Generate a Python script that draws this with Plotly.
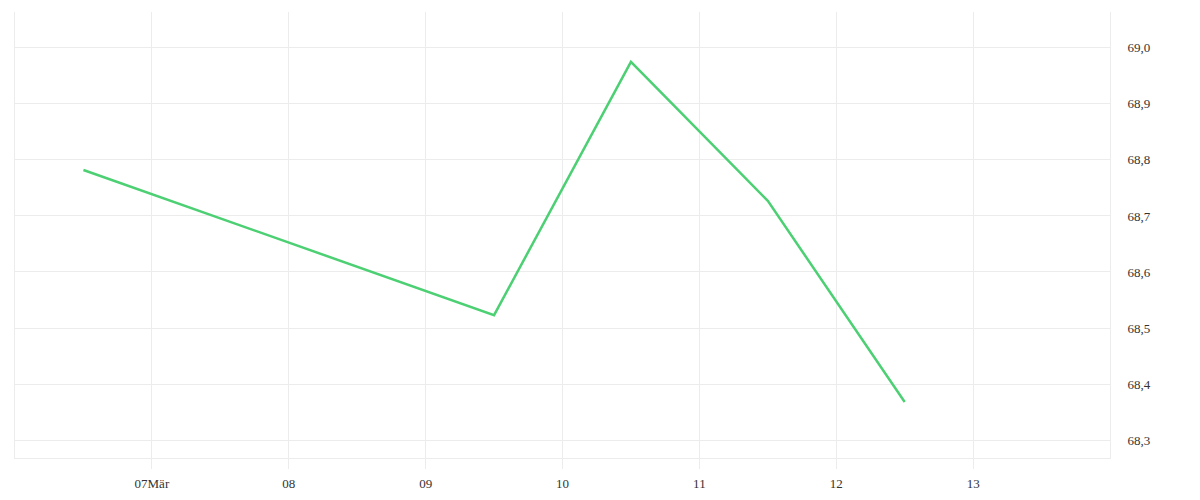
import plotly.graph_objects as go

dates = ["2020-03-06 12:00", "2020-03-09 12:00", "2020-03-10 12:00",
         "2020-03-11 12:00", "2020-03-12 12:00"]
values = [68.782, 68.523, 68.975, 68.727, 68.368]

tick_dates = ["2020-03-07", "2020-03-08", "2020-03-09", "2020-03-10",
              "2020-03-11", "2020-03-12", "2020-03-13"]
tick_labels = ["07Mär", "08", "09", "10", "11", "12", "13"]

GRID = "#ececec"

fig = go.Figure()
fig.add_trace(go.Scatter(
    x=dates,
    y=values,
    mode="lines",
    line=dict(color="#4cd073", width=2.5),
    hovertemplate="%{x|%d.%m.%Y}<br>%{y:.3f}<extra></extra>",
))

# page body has an 8px margin, so plot margins are shifted to compensate
fig.update_layout(
    width=1200,
    height=500,
    margin=dict(l=7, r=98, t=4, b=50),
    plot_bgcolor="white",
    paper_bgcolor="white",
    separators=",.",
    showlegend=False,
    font=dict(family="Times New Roman, Liberation Serif, DejaVu Serif, serif",
              size=13, color="#333333"),
    xaxis=dict(
        range=["2020-03-06", "2020-03-14"],
        tickvals=tick_dates,
        ticktext=tick_labels,
        showgrid=True,
        gridcolor=GRID,
        ticks="outside",
        ticklen=10,
        tickcolor=GRID,
        ticklabelstandoff=3,
        showline=True,
        linecolor=GRID,
        zeroline=False,
    ),
    yaxis=dict(
        side="right",
        range=[68.268, 69.064],
        dtick=0.1,
        tickformat=".1f",
        showgrid=True,
        gridcolor=GRID,
        showline=True,
        mirror=True,
        linecolor=GRID,
        ticklabelstandoff=14,
        zeroline=False,
    ),
)

fig.write_html("out.html")
